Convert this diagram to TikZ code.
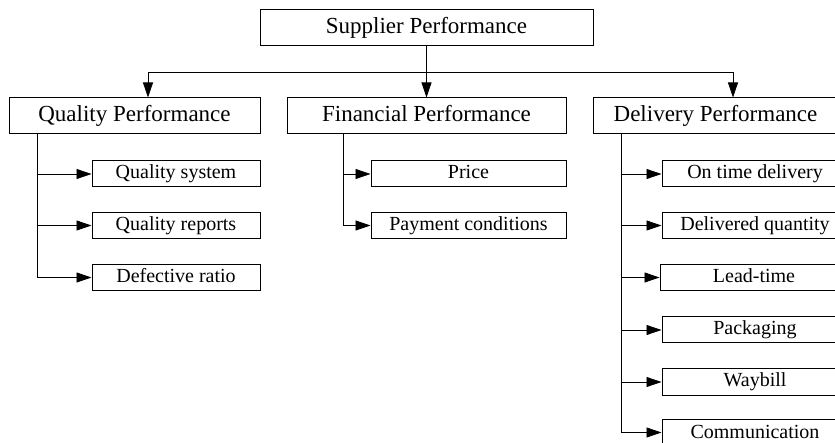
\documentclass[tikz,border=0pt]{standalone}
\usepackage{fontspec}
\setmainfont{Liberation Serif}
\usetikzlibrary{arrows.meta}
\begin{document}
\begin{tikzpicture}[x=1pt,y=-1pt,
  bigbox/.style={draw, line width=1pt, inner sep=0pt, text height=16pt, text depth=5pt, font=\fontsize{23}{26}\selectfont},
  smallbox/.style={draw, line width=1pt, inner sep=0pt, text height=14pt, text depth=4.5pt, font=\fontsize{20}{23}\selectfont},
  conn/.style={line width=0.8pt, -{Triangle[length=15pt,width=10pt]}},
  trunk/.style={line width=0.8pt}]
\useasboundingbox (0,0) rectangle (835,443);
\clip (0,0) rectangle (835,443);
% top
\node[bigbox, minimum width=333pt, minimum height=36pt] (sp) at (426.5,28) {Supplier Performance};
% level 2
\node[bigbox, minimum width=251pt, minimum height=36pt] (qp) at (134.5,116) {Quality Performance};
\node[bigbox, minimum width=279pt, minimum height=36pt] (fp) at (426.5,116) {Financial Performance};
\node[bigbox, minimum width=245pt, minimum height=36pt] (dp) at (715.5,116) {Delivery Performance};
% top connectors
\coordinate (hl) at (148,72);
\coordinate (hr) at (733,72);
\draw[conn] (sp.south) -- (fp.north);
\draw[trunk] (hl) -- (hr);
\draw[conn] (hl) -- (hl |- qp.north);
\draw[conn] (hr) -- (hr |- dp.north);
% quality children
\node[smallbox, minimum width=168pt, minimum height=26pt] (q1) at (176,174) {Quality system};
\node[smallbox, minimum width=168pt, minimum height=26pt] (q2) at (176,225.5) {Quality reports};
\node[smallbox, minimum width=168pt, minimum height=26pt] (q3) at (176,277.5) {Defective ratio};
\coordinate (qt) at (37,134);
\draw[trunk] (qt) -- (qt |- q3.west);
\foreach \n in {q1,q2,q3} \draw[conn] (qt |- \n.west) -- (\n.west);
% financial children
\node[smallbox, minimum width=195pt, minimum height=26pt] (f1) at (468.5,174) {Price};
\node[smallbox, minimum width=195pt, minimum height=26pt] (f2) at (468.5,225.5) {Payment conditions};
\coordinate (ft) at (343,134);
\draw[trunk] (ft) -- (ft |- f2.west);
\foreach \n in {f1,f2} \draw[conn] (ft |- \n.west) -- (\n.west);
% delivery children
\node[smallbox, minimum width=186pt, minimum height=26pt] (d1) at (755,174) {On time delivery};
\node[smallbox, minimum width=186pt, minimum height=26pt] (d2) at (755,225.5) {Delivered quantity};
\node[smallbox, minimum width=188pt, minimum height=26pt] (d3) at (754,277.5) {Lead-time};
\node[smallbox, minimum width=186pt, minimum height=26pt] (d4) at (755,330) {Packaging};
\node[smallbox, minimum width=186pt, minimum height=26pt] (d5) at (755,382) {Waybill};
\node[smallbox, minimum width=186pt, minimum height=26pt, text depth=2pt] (d6) at (755,432.5) {Communication};
\coordinate (dt) at (621,134);
\draw[trunk] (dt) -- (dt |- d6.west);
\foreach \n in {d1,d2,d3,d4,d5,d6} \draw[conn] (dt |- \n.west) -- (\n.west);
\end{tikzpicture}
\end{document}
